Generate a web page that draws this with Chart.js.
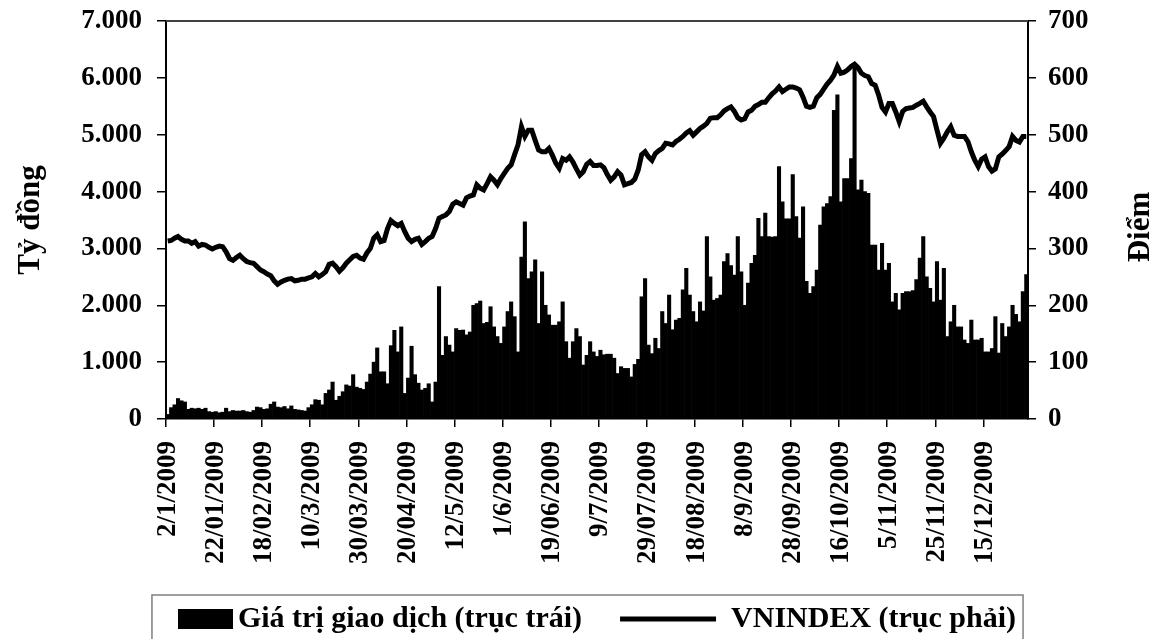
<!DOCTYPE html>
<html lang="vi">
<head>
  <meta charset="UTF-8">
  <title>Giá trị giao dịch và VNINDEX 2009</title>
  <style>
    body {
      margin: 0;
      padding: 0;
      background: #fff;
    }
    #wrap {
      width: 1163px;
      height: 639px;
    }
  </style>
</head>
<body>
  <div id="wrap">
    <canvas id="chart" width="1163" height="639"></canvas>
  </div>

  <script src="https://cdn.jsdelivr.net/npm/chart.js"></script>
  <script>
    // x-axis labels, one every 14 trading days
    const tickLabels = ['2/1/2009', '22/01/2009', '18/02/2009', '10/3/2009', '30/03/2009', '20/04/2009',
      '12/5/2009', '1/6/2009', '19/06/2009', '9/7/2009', '29/07/2009', '18/08/2009', '8/9/2009',
      '28/09/2009', '16/10/2009', '5/11/2009', '25/11/2009', '15/12/2009'];
    const labelStep = 14;

    // daily trading value (billion VND), left axis
    const tradeValue = [
      80, 200, 250, 360, 320, 300, 170, 190, 180, 190, 170, 190, 130, 120, 130, 110, 120, 190, 130, 150,
      140, 140, 150, 130, 120, 150, 210, 200, 170, 180, 260, 300, 210, 200, 220, 180, 230, 170, 160, 150,
      140, 200, 250, 340, 330, 250, 450, 510, 650, 330, 400, 480, 600, 580, 780, 560, 540, 520, 650, 790,
      1000, 1250, 830, 830, 620, 1290, 1560, 1180, 1620, 450, 720, 1280, 780, 630, 510, 540, 620, 300, 650, 2330,
      1120, 1450, 1300, 1180, 1590, 1560, 1565, 1480, 1530, 2000, 2030, 2075, 1680, 1700, 1975, 1620, 1450, 1330, 1620, 1890,
      2060, 1800, 1180, 2850, 3470, 2470, 2590, 2800, 1680, 2590, 2000, 1830, 1650, 1650, 1710, 2060, 1360, 1070, 1360, 1590,
      1450, 950, 1120, 1360, 1180, 1100, 1210, 1130, 1140, 1140, 1070, 800, 920, 890, 890, 740, 960, 1050, 2150, 2470,
      1300, 1150, 1420, 1240, 1890, 1680, 2180, 1570, 1740, 1770, 2270, 2650, 2180, 1890, 1710, 2060, 1900, 3210, 2500, 2090,
      2120, 2180, 2770, 2910, 2700, 2530, 3210, 2590, 2000, 2390, 2740, 2880, 3530, 3210, 3620, 3210, 3200, 3210, 4440, 3820,
      3520, 3520, 4300, 3560, 3180, 3730, 2420, 2210, 2330, 2620, 3410, 3730, 3790, 3910, 5430, 5700, 3820, 4230, 4230, 4580,
      6230, 4030, 4200, 4000, 3970, 3060, 3060, 2620, 3090, 2620, 2740, 2060, 2210, 1920, 2210, 2240, 2240, 2260, 2450, 2830,
      3210, 2500, 2300, 2060, 2770, 2090, 2650, 1450, 1710, 2000, 1620, 1620, 1390, 1330, 1740, 1390, 1390, 1420, 1180, 1180,
      1240, 1800, 1160, 1680, 1450, 1620, 2000, 1840, 1710, 2240, 2540
    ];

    // VNINDEX close (points), right axis
    const vnIndex = [
      313, 314, 318, 321, 316, 313, 313, 309, 312, 304, 307, 306, 302, 299, 302, 304, 303, 294, 282, 279,
      284, 288, 282, 277, 275, 274, 268, 262, 259, 255, 252, 243, 237, 241, 244, 246, 247, 243, 244, 246,
      246, 248, 250, 256, 250, 254, 259, 272, 274, 268, 260, 266, 274, 280, 286, 288, 283, 281, 292, 300,
      318, 324, 312, 314, 335, 349, 344, 340, 344, 330, 318, 312, 316, 318, 307, 312, 318, 321, 335, 353,
      356, 359, 365, 378, 382, 379, 376, 389, 392, 394, 412, 406, 403, 414, 426, 420, 412, 423, 432, 441,
      447, 465, 482, 514, 497, 508, 508, 490, 473, 470, 470, 476, 464, 450, 441, 458, 455, 461, 452, 440,
      429, 435, 448, 453, 446, 446, 447, 442, 430, 420, 426, 435, 429, 412, 414, 416, 422, 438, 465, 470,
      461, 455, 467, 472, 476, 485, 484, 482, 488, 492, 497, 503, 507, 499, 505, 511, 515, 520, 529, 530,
      530, 535, 542, 546, 549, 541, 530, 526, 528, 540, 543, 550, 553, 557, 557, 565, 572, 577, 584, 576,
      580, 584, 584, 582, 579, 566, 550, 548, 550, 565, 571, 580, 589, 596, 605, 620, 608, 610, 614, 620,
      624, 618, 608, 604, 602, 590, 587, 570, 548, 540, 555, 555, 540, 523, 541, 546, 547, 548, 552, 555,
      559, 549, 540, 532, 508, 485, 494, 505, 514, 499, 497, 497, 497, 488, 470, 455, 444, 457, 461, 444,
      436, 440, 461, 466, 472, 479, 497, 490, 487, 497, 497
    ];

    const days = vnIndex.map((v, i) => i);

    const serif = "'Liberation Serif', 'Times New Roman', serif";
    Chart.defaults.font.family = serif;
    Chart.defaults.font.weight = 'bold';
    Chart.defaults.color = '#000';

    const dotThousands = (v) => String(v).replace(/\B(?=(\d{3})+(?!\d))/g, '.');

    // legend swatch for the bars: a 55x20 block sitting close to its label
    const barSwatch = document.createElement('canvas');
    barSwatch.width = 116;
    barSwatch.height = 20;
    const sw = barSwatch.getContext('2d');
    sw.fillStyle = '#000';
    sw.fillRect(61, 0, 55, 20);

    // grey line on top of the plot, box round the legend, right axis title
    const decorations = {
      id: 'decorations',
      afterDraw(chart) {
        const ctx = chart.ctx;
        const area = chart.chartArea;
        ctx.save();
        ctx.strokeStyle = '#404040';
        ctx.lineWidth = 2;
        ctx.beginPath();
        ctx.moveTo(area.left, area.top);
        ctx.lineTo(area.right, area.top);
        ctx.stroke();

        const boxes = chart.legend.legendHitBoxes;
        if (boxes && boxes.length) {
          const first = boxes[0];
          const last = boxes[boxes.length - 1];
          const x0 = first.left + 25;
          ctx.strokeStyle = '#808080';
          ctx.lineWidth = 1.5;
          ctx.strokeRect(x0, first.top - 9, last.left + last.width + 7 - x0, 70);
        }

        const y1 = chart.scales.y1;
        ctx.translate(y1.right - 22, (area.top + area.bottom) / 2 + 7);
        ctx.rotate(-Math.PI / 2);
        ctx.font = 'bold 31px ' + serif;
        ctx.fillStyle = '#000';
        ctx.textAlign = 'center';
        ctx.textBaseline = 'middle';
        ctx.fillText('Điểm', 0, 0);
        ctx.restore();
      }
    };

    // keep the plot area where the reference has it
    const noLabelPadding = (s) => {
      s.paddingTop = 0;
      s.paddingBottom = 0;
    };

    const ctx = document.getElementById('chart').getContext('2d');
    const chart = new Chart(ctx, {
      type: 'bar',
      data: {
        labels: days,
        datasets: [
          {
            type: 'line',
            label: 'VNINDEX (trục phải)',
            data: vnIndex,
            yAxisID: 'y1',
            borderColor: '#000',
            backgroundColor: '#000',
            borderWidth: 5,
            pointRadius: 0,
            pointStyle: 'line',
            tension: 0
          },
          {
            label: 'Giá trị giao dịch (trục trái)',
            data: tradeValue,
            yAxisID: 'y',
            backgroundColor: '#000',
            borderWidth: 0,
            barPercentage: 1,
            categoryPercentage: 1,
            pointStyle: barSwatch
          }
        ]
      },
      options: {
        responsive: false,
        animation: false,
        layout: { padding: { top: 21, left: -20, right: 0, bottom: -5 } },
        plugins: {
          tooltip: { enabled: false },
          legend: {
            position: 'bottom',
            reverse: true,
            labels: {
              usePointStyle: true,
              pointStyleWidth: 96,
              boxHeight: 20,
              padding: 38,
              font: { size: 30, weight: 'bold', family: serif },
              color: '#000'
            }
          }
        },
        scales: {
          x: {
            grid: {
              drawOnChartArea: false,
              tickLength: 8,
              lineWidth: 1.5,
              color: (c) => (c.index % labelStep === 0 ? '#000' : 'rgba(0,0,0,0)')
            },
            border: { color: '#000', width: 1.5 },
            ticks: {
              autoSkip: false,
              minRotation: 90,
              maxRotation: 90,
              padding: 14,
              font: { size: 27, weight: 'bold' },
              callback: (v, i) => (i % labelStep === 0 ? tickLabels[i / labelStep] : '')
            },
            afterFit: (s) => { s.height = 147; }
          },
          y: {
            position: 'left',
            min: 0,
            max: 7000,
            grid: { drawOnChartArea: false, tickLength: 9, lineWidth: 1.5, color: '#000' },
            border: { color: '#000', width: 2 },
            ticks: {
              stepSize: 1000,
              padding: 15,
              font: { size: 27, weight: 'bold' },
              callback: (v) => dotThousands(v)
            },
            title: {
              display: true,
              text: 'Tỷ đồng',
              font: { size: 31, weight: 'bold' },
              padding: { top: 32, bottom: 0 }
            },
            afterFit: (s) => { s.width = 186; noLabelPadding(s); }
          },
          y1: {
            position: 'right',
            min: 0,
            max: 700,
            grid: { drawOnChartArea: false, tickLength: 8, lineWidth: 1.5, color: '#000' },
            border: { color: '#000', width: 2 },
            ticks: {
              stepSize: 100,
              padding: 12,
              font: { size: 27, weight: 'bold' }
            },
            afterFit: (s) => { s.width = 135; noLabelPadding(s); }
          }
        }
      },
      plugins: [decorations]
    });
  </script>
</body>
</html>
